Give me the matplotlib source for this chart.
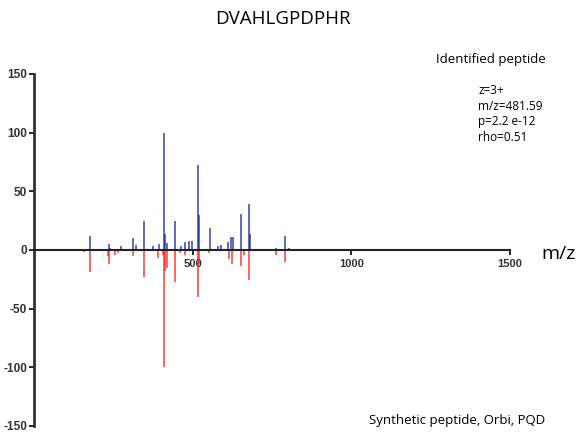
import matplotlib
matplotlib.use("Agg")
import matplotlib.pyplot as plt

plt.rcParams['font.family'] = ['Liberation Sans', 'DejaVu Sans']
plt.rcParams['axes.unicode_minus'] = False

# identified spectrum (upper, blue)
obs_mz = [176, 237, 241, 274, 312, 323, 346, 375, 393, 410, 414, 419,
          446, 462, 476, 488, 498, 517, 520, 554, 580, 590, 613, 622,
          626, 652, 679, 681, 763, 791, 805]
obs_int = [12, 5, 2, 3, 10, 4, 25, 3, 5, 100, 14, 6,
           25, 3, 7, 8, 8, 72, 30, 19, 3, 4, 7, 11,
           11, 31, 39, 14, 2, 12, 2]

# synthetic reference spectrum (lower, red)
ref_mz = [145, 157, 176, 232, 236, 255, 265, 312, 346, 391, 406, 410,
          414, 418, 446, 459, 475, 517, 520, 553, 616, 624, 652, 663,
          679, 763, 791, 1035]
ref_int = [1, 2, 19, 5, 12, 4, 3, 5, 23, 7, 4, 100,
           18, 15, 27, 3, 4, 40, 12, 3, 8, 12, 14, 4,
           26, 4, 10, 1]

title = "DVAHLGPDPHR"
info = ["z=3+", "m/z=481.59", "p=2.2 e-12", "rho=0.51"]

fig = plt.figure(figsize=(5.79, 4.33), dpi=100)
ax = fig.add_axes([0.0587, 0.0162, 0.822, 0.813])

ax.vlines(obs_mz, 0, obs_int, color='#1c2496', lw=1.2, alpha=0.8)
ax.vlines(ref_mz, 0, [-v for v in ref_int], color='#ff1a1a', lw=1.2, alpha=0.8)

ax.set_xlim(0, 1500)
ax.set_ylim(-150, 150)
ax.set_yticks([-150, -100, -50, 0, 50, 100, 150])
ax.set_xticks([500, 1000, 1500])

for s in ['top', 'right']:
    ax.spines[s].set_visible(False)
ax.spines['bottom'].set_position(('data', 0))
ax.spines['bottom'].set_linewidth(1.5)
ax.spines['bottom'].set_color('#222222')
ax.spines['left'].set_linewidth(2)
ax.spines['left'].set_color('#333333')
ax.tick_params(axis='y', labelsize=8.5, length=3.5, width=1.2, pad=1.5)
ax.tick_params(axis='x', labelsize=8, length=3.5, width=1.2, pad=3)
for lbl in ax.get_xticklabels() + ax.get_yticklabels():
    lbl.set_fontweight('bold')
    lbl.set_color('#333333')

fig.text(0.489, 0.955, title, ha='center', va='center', fontsize=13.5,
         family=['Open Sans', 'DejaVu Sans'])
fig.text(0.942, 0.862, "Identified peptide", ha='right', va='center',
         fontsize=9.5, family=['Open Sans', 'DejaVu Sans'])
fig.text(0.826, 0.805, "\n".join(info), ha='left', va='top',
         fontsize=8.5, linespacing=1.25, family=['Open Sans', 'DejaVu Sans'])
fig.text(0.935, 0.413, "m/z", ha='left', va='center', fontsize=14,
         family=['Open Sans', 'DejaVu Sans'])
fig.text(0.942, 0.03, "Synthetic peptide, Orbi, PQD", ha='right',
         va='center', fontsize=9.5, family=['Open Sans', 'DejaVu Sans'])

fig.savefig("out.png", dpi=100)
